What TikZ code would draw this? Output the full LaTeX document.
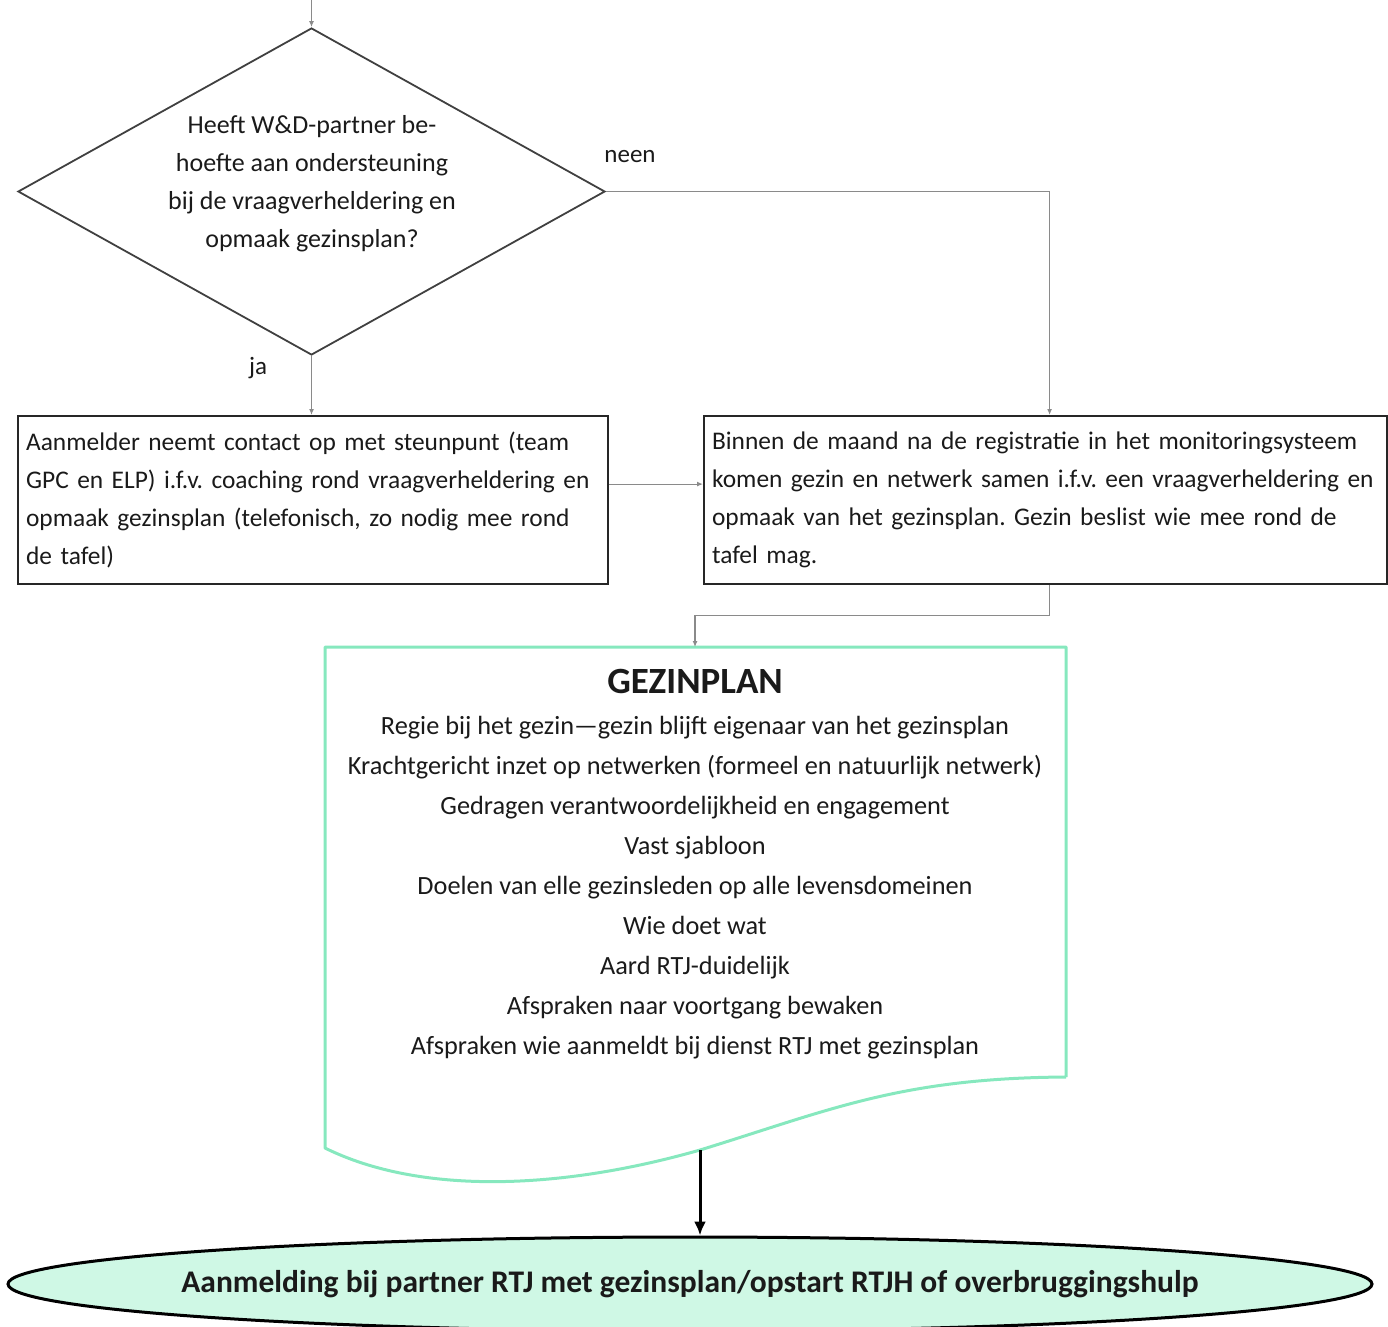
\documentclass[tikz,border=0pt]{standalone}
\usepackage{fontspec}
\setmainfont{Carlito}
\usetikzlibrary{shapes.geometric,arrows.meta}
\definecolor{txt}{HTML}{1A1A1A}
\definecolor{conncol}{HTML}{8A8A8A}
\definecolor{docgreen}{HTML}{86E8BE}
\definecolor{ellfill}{HTML}{CFF8E5}
\tikzset{
  conn/.style={draw=conncol, line width=1.2pt, -{Latex[length=6pt,width=5pt]}},
  boxnode/.style={draw=black!85, line width=2.2pt, rectangle, anchor=north west, inner xsep=8pt,
     align=left, font=\fontsize{25.4}{38}\selectfont, text=txt},
  lbl/.style={font=\fontsize{25}{28}\selectfont, text=txt},
}
\frenchspacing
\begin{document}
\begin{tikzpicture}[x=1pt,y=-1pt]
\useasboundingbox (0,0) rectangle (1388,1326);
% diamond
\node[diamond, draw=black!75, line width=1.8pt, minimum width=587pt, minimum height=327pt, inner sep=0pt] (dia) at (311.5,191.5) {};
\node[align=center, font=\fontsize{26}{38}\selectfont, text=txt] (diatext) at (312,184)
  {Heeft W\&D-partner be-\\hoefte aan ondersteuning\\bij de vraagverheldering en\\opmaak gezinsplan?};
\coordinate (topin) at (311.5,0);
\draw[conn] (topin) -- (dia.north);
\node[lbl] (neen) at (630,157) {neen};
\node[lbl] (ja) at (258,368) {ja};
% boxes
\node[boxnode, minimum width=590pt, minimum height=168pt, text width=574pt] (lbox) at (17,415)
  {\frenchspacing Aanmelder neemt contact op met steunpunt (team\\GPC en ELP) i.f.v. coaching rond vraagverheldering en\\opmaak gezinsplan (telefonisch, zo nodig mee rond\\de tafel)};
\node[boxnode, minimum width=683pt, minimum height=168pt, text width=667pt] (rbox) at (703,415)
  {\frenchspacing Binnen de maand na de registratie in het monitoringsysteem\\komen gezin en netwerk samen i.f.v. een vraagverheldering en\\opmaak van het gezinsplan. Gezin beslist wie mee rond de\\tafel mag.};
\draw[conn] (dia.east) -| ([xshift=4pt]rbox.north);
\draw[conn] (dia.south) -- (dia.south |- lbox.north);
\draw[conn] ([yshift=16pt]lbox.east) -- ([yshift=16pt]rbox.west);
% document shape
\coordinate (doctop) at (695,647);
\coordinate (docbot) at (700,1150);
\draw[docgreen, line width=3pt, line join=round]
  (1066,1077) -- (1066,647) -- (325,647) -- (325,1148)
  .. controls (420,1195) and (560,1190) .. (docbot)
  .. controls (830,1110) and (900,1078) .. (1066,1077);
\draw[conn] ([xshift=4pt]rbox.south) -- ++(0,30) -| (doctop);
\node[font=\bfseries\fontsize{37}{40}\selectfont, text=txt] (gtitle) at (695,681) {GEZINPLAN};
\node[align=center, font=\fontsize{26.3}{40}\selectfont, text=txt] (gbody) at (695,887.5)
  {Regie bij het gezin---gezin blijft eigenaar van het gezinsplan\\
   Krachtgericht inzet op netwerken (formeel en natuurlijk netwerk)\\
   Gedragen verantwoordelijkheid en engagement\\
   Vast sjabloon\\
   Doelen van elle gezinsleden op alle levensdomeinen\\
   Wie doet wat\\
   Aard RTJ-duidelijk\\
   Afspraken naar voortgang bewaken\\
   Afspraken wie aanmeldt bij dienst RTJ met gezinsplan};
% ellipse
\node[ellipse, draw=black, fill=ellfill, line width=3pt, minimum width=1364pt, minimum height=94pt, inner sep=0pt] (ell) at (690,1284) {};
\node[font=\bfseries\fontsize{31.5}{34}\selectfont, text=txt] (elltext) at (ell.center)
  {Aanmelding bij partner RTJ met gezinsplan/opstart RTJH of overbruggingshulp};
\draw[line width=3pt, -{Latex[length=14pt,width=12pt]}] (docbot) -- (docbot |- ell.north);
\end{tikzpicture}
\end{document}
